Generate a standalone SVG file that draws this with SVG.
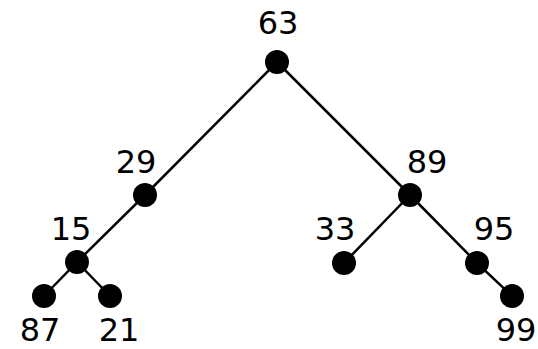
<svg xmlns="http://www.w3.org/2000/svg" width="538" height="349" viewBox="0 0 538 349">
<style>
.e{stroke:#000;stroke-width:2.5;fill:none}
.n{fill:#000}
.t{font-family:"DejaVu Sans",sans-serif;font-size:32px;fill:#000;text-anchor:middle}
</style>
<rect width="538" height="349" fill="#fff"/>
<g id="edges">
<line class="e" x1="277" y1="62" x2="145" y2="195"/>
<line class="e" x1="277" y1="62" x2="410" y2="195"/>
<line class="e" x1="145" y1="195" x2="77" y2="262"/>
<line class="e" x1="77" y1="262" x2="44" y2="296"/>
<line class="e" x1="77" y1="262" x2="110" y2="296"/>
<line class="e" x1="410" y1="195" x2="344" y2="263"/>
<line class="e" x1="410" y1="195" x2="477" y2="263"/>
<line class="e" x1="477" y1="263" x2="512" y2="296"/>
</g>
<g id="n63"><circle class="n" cx="277" cy="62" r="12"/><text class="t" x="278" y="34">63</text></g>
<g id="n29"><circle class="n" cx="145" cy="195" r="12"/><text class="t" x="136" y="173">29</text></g>
<g id="n15"><circle class="n" cx="77" cy="262" r="12"/><text class="t" x="71" y="240">15</text></g>
<g id="n87"><circle class="n" cx="44" cy="296" r="12"/><text class="t" x="40" y="341">87</text></g>
<g id="n21"><circle class="n" cx="110" cy="296" r="12"/><text class="t" x="119" y="341">21</text></g>
<g id="n89"><circle class="n" cx="410" cy="195" r="12"/><text class="t" x="427" y="173">89</text></g>
<g id="n33"><circle class="n" cx="344" cy="263" r="12"/><text class="t" x="335" y="240">33</text></g>
<g id="n95"><circle class="n" cx="477" cy="263" r="12"/><text class="t" x="494" y="240">95</text></g>
<g id="n99"><circle class="n" cx="512" cy="296" r="12"/><text class="t" x="516" y="341">99</text></g>
</svg>
